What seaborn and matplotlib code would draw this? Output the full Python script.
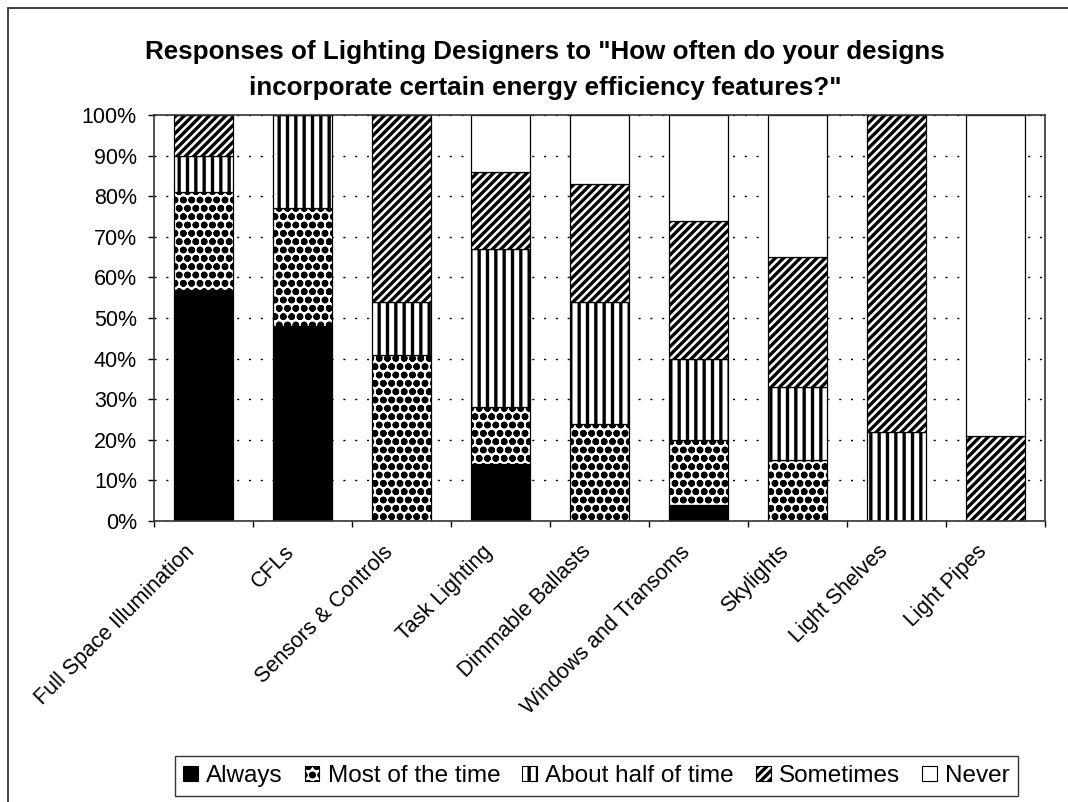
import matplotlib
matplotlib.use("Agg")
import matplotlib as mpl
import matplotlib.pyplot as plt
import matplotlib.transforms as mtransforms
from matplotlib.patches import Patch, Rectangle
from matplotlib.ticker import FixedLocator, PercentFormatter
import seaborn as sns
import numpy as np
import pandas as pd

categories = ["Full Space Illumination", "CFLs", "Sensors & Controls", "Task Lighting",
              "Dimmable Ballasts", "Windows and Transoms", "Skylights", "Light Shelves",
              "Light Pipes"]
always = [57, 48, 0, 14, 0, 4, 0, 0, 0]
most_of_time = [24, 29, 41, 14, 24, 16, 15, 0, 0]
about_half = [9, 23, 13, 39, 30, 20, 18, 22, 0]
sometimes = [10, 0, 46, 19, 29, 34, 32, 78, 21]
never = [0, 0, 0, 14, 17, 26, 35, 0, 79]
series_names = ["Always", "Most of the time", "About half of time", "Sometimes", "Never"]
title_lines = ['Responses of Lighting Designers to "How often do your designs',
               'incorporate certain energy efficiency features?"']

sns.set_theme(style="white")
plt.rcParams["font.family"] = ["Liberation Sans", "DejaVu Sans"]
plt.rcParams["hatch.linewidth"] = 2.4
plt.rcParams["hatch.color"] = "black"
plt.rcParams["text.color"] = "black"
plt.rcParams["axes.labelcolor"] = "black"
plt.rcParams["xtick.color"] = "black"
plt.rcParams["ytick.color"] = "black"

styles = [
    dict(color="black", hatch=None),
    dict(color="white", hatch="oo"),
    dict(color="white", hatch="||"),
    dict(color="white", hatch="////"),
    dict(color="white", hatch=None),
]

fig = plt.figure(figsize=(10.68, 8.02), dpi=100)
ax = fig.add_axes([154 / 1068, 1 - 521 / 802, (1045 - 154) / 1068, (521 - 115) / 802])

df = pd.DataFrame({"category": categories, "Always": always, "Most of the time": most_of_time,
                   "About half of time": about_half, "Sometimes": sometimes, "Never": never})

bottom = np.zeros(len(categories))
handles = []
for name, st in zip(series_names, styles):
    sns.barplot(data=df, x="category", y=name, order=categories, bottom=bottom,
                color=st["color"], saturation=1, width=0.6, edgecolor="black",
                linewidth=0.9, hatch=st["hatch"], ax=ax, zorder=3, errorbar=None)
    handles.append(Patch(facecolor=st["color"], edgecolor="black", hatch=st["hatch"],
                         linewidth=0.8, label=name))
    bottom = bottom + np.array(df[name], dtype=float)

ax.set_xlim(-0.5, len(categories) - 0.5)
ax.set_ylim(0, 100)
ax.set_xlabel("")
ax.set_ylabel("")
ax.yaxis.set_major_locator(FixedLocator(np.arange(0, 101, 10)))
ax.yaxis.set_major_formatter(PercentFormatter(decimals=0))
ax.grid(axis="y", color="black", linestyle=(0, (1.5, 7)), linewidth=1.0, zorder=1)
ax.grid(axis="x", visible=False)
ax.set_axisbelow(True)

for s in ax.spines.values():
    s.set_visible(True)
    s.set_color("#333333")
    s.set_linewidth(1.2)
    s.set_zorder(4)

ax.tick_params(axis="y", which="major", direction="out", length=4.3, width=1, color="black",
               labelcolor="black", labelsize=15.5, pad=8, left=True)
ax.xaxis.set_minor_locator(FixedLocator(np.arange(-0.5, len(categories), 1.0)))
ax.tick_params(axis="x", which="minor", direction="out", length=4.3, width=1, color="black",
               bottom=True)
ax.tick_params(axis="x", which="major", length=0, pad=20, labelsize=15.5, labelcolor="black")
offset = mtransforms.ScaledTranslation(-11.5 / 100, 0, fig.dpi_scale_trans)
for lab in ax.get_xticklabels():
    lab.set_rotation(45)
    lab.set_ha("right")
    lab.set_va("center")
    lab.set_rotation_mode("anchor")
    lab.set_transform(lab.get_transform() + offset)

fig.text(545 / 1068, 1 - 52 / 802, title_lines[0], ha="center", va="center",
         fontsize=18.7, fontweight="bold", color="black")
fig.text(545 / 1068, 1 - 88 / 802, title_lines[1], ha="center", va="center",
         fontsize=18.7, fontweight="bold", color="black")

leg = fig.legend(handles=handles, loc="center", bbox_to_anchor=(596.5 / 1068, 1 - 776 / 802),
                 ncol=5, frameon=True, fancybox=False, fontsize=17.5, handlelength=0.6,
                 handleheight=0.6, handletextpad=0.35, columnspacing=0.9, borderpad=0.35,
                 edgecolor="black", labelcolor="black")
leg.get_frame().set_linewidth(1.0)

fig.patches.append(Rectangle((8 / 1068, -0.2), 1.2, 1.2 - 8 / 802,
                             transform=fig.transFigure, fill=False, edgecolor="#333333",
                             linewidth=1.3, zorder=0))

fig.savefig("out.png", dpi=100, facecolor="white")
